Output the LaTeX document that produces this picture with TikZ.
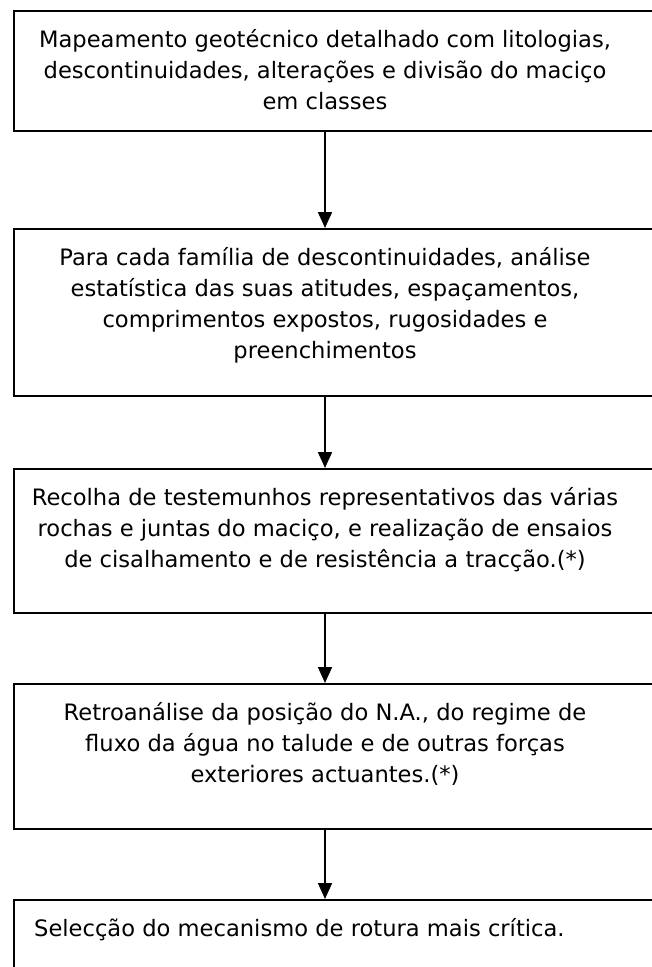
\documentclass[tikz,border=0pt]{standalone}
\usepackage{fontspec}
\setmainfont{DejaVu Sans}
\usetikzlibrary{arrows.meta}
\tikzset{
  stepbox/.style={draw=black, line width=1.8pt, inner sep=0pt, anchor=north west},
  steptext/.style={font=\fontsize{22.6}{31}\selectfont, align=center, inner sep=0pt, anchor=base},
  flow/.style={line width=1.8pt, -{Triangle[length=16pt,width=14pt]}}
}
\begin{document}
\begin{tikzpicture}[x=1pt,y=-1pt]
\clip (0,0) rectangle (652,967);
\fill[white] (0,0) rectangle (652,967);
% boxes
\node[stepbox, minimum width=660pt, minimum height=120pt] (b1) at (13,10) {};
\node[stepbox, minimum width=660pt, minimum height=167pt] (b2) at (13,228) {};
\node[stepbox, minimum width=660pt, minimum height=144pt] (b3) at (13,468) {};
\node[stepbox, minimum width=660pt, minimum height=145pt] (b4) at (13,683) {};
\node[stepbox, minimum width=660pt, minimum height=120pt] (b5) at (13,899) {};
% texts (anchored at the baseline of the last line)
\node[steptext] (t1) at (325,109) {Mapeamento geotécnico detalhado com litologias,\\descontinuidades, alterações e divisão do maciço\\em classes};
\node[steptext] (t2) at (325,358) {Para cada família de descontinuidades, análise\\estatística das suas atitudes, espaçamentos,\\comprimentos expostos, rugosidades e\\preenchimentos};
\node[steptext] (t3) at (325,567) {Recolha de testemunhos representativos das várias\\rochas e juntas do maciço, e realização de ensaios\\de cisalhamento e de resistência a tracção.(*)};
\node[steptext] (t4) at (325,782) {Retroanálise da posição do N.A., do regime de\\fluxo da água no talude e de outras forças\\exteriores actuantes.(*)};
\node[steptext, anchor=base west] (t5) at (34,936) {Selecção do mecanismo de rotura mais crítica.};
% arrows
\coordinate (ax) at (325,0);
\draw[flow] (b1.south -| ax) -- (b2.north -| ax);
\draw[flow] (b2.south -| ax) -- (b3.north -| ax);
\draw[flow] (b3.south -| ax) -- (b4.north -| ax);
\draw[flow] (b4.south -| ax) -- (b5.north -| ax);
\end{tikzpicture}
\end{document}
